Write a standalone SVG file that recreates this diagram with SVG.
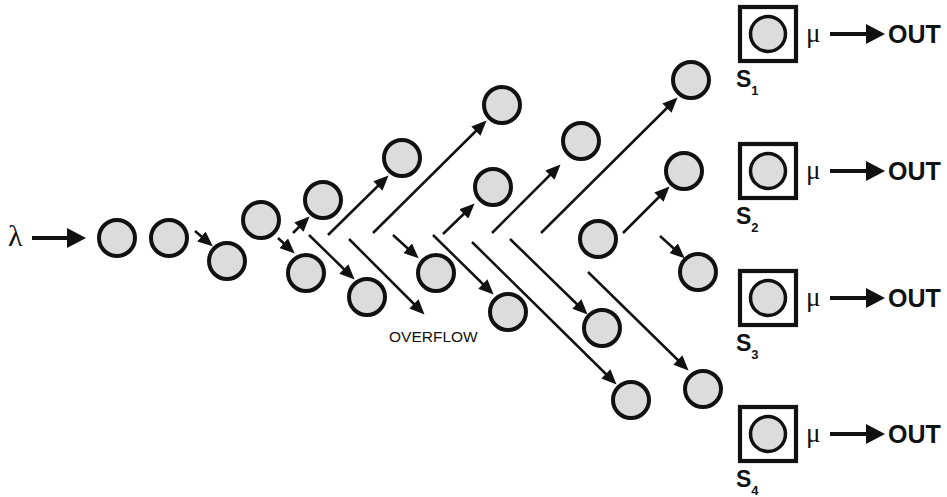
<svg xmlns="http://www.w3.org/2000/svg" width="947" height="497" viewBox="0 0 947 497">
<style>
.q{fill:#dcdcdc;stroke:#111;stroke-width:4}
.sc{fill:#dcdcdc;stroke:#111;stroke-width:3.5}
.box{fill:none;stroke:#111;stroke-width:4.2}
.a{stroke:#111;stroke-width:2.5;fill:none;marker-end:url(#ah)}
.ab{stroke:#111;stroke-width:4;fill:none;marker-end:url(#ahb)}
.sym{font-family:"Liberation Serif",serif;fill:#111}
.b{font-family:"Liberation Sans",Arial,sans-serif;font-weight:bold;fill:#111}
.n{font-family:"Liberation Sans",Arial,sans-serif;fill:#111}
</style>
<defs>
<marker id="ah" markerUnits="userSpaceOnUse" markerWidth="15" markerHeight="13" refX="10" refY="6.5" orient="auto" viewBox="0 0 15 13"><path d="M0,0 L15,6.5 L0,13 z" fill="#111"/></marker>
<marker id="ahb" markerUnits="userSpaceOnUse" markerWidth="19" markerHeight="20" refX="14" refY="10" orient="auto" viewBox="0 0 19 20"><path d="M0,0 L19,10 L0,20 z" fill="#111"/></marker>
</defs>
<rect width="947" height="497" fill="#fff"/>
<g id="connectors">
<line class="ab" x1="32" y1="238" x2="81" y2="238"/>
<line class="a" x1="195" y1="231" x2="209" y2="243"/>
<line class="a" x1="278" y1="238" x2="291" y2="250"/>
<line class="a" x1="293" y1="233" x2="306" y2="220"/>
<line class="a" x1="328" y1="235" x2="385" y2="179"/>
<line class="a" x1="373" y1="233" x2="483" y2="124"/>
<line class="a" x1="309" y1="235" x2="351" y2="276"/>
<line class="a" x1="349" y1="239" x2="421" y2="311"/>
<line class="a" x1="393" y1="235" x2="415" y2="255"/>
<line class="a" x1="443" y1="234" x2="471" y2="207"/>
<line class="a" x1="433" y1="235" x2="490" y2="291"/>
<line class="a" x1="492" y1="233" x2="557" y2="168"/>
<line class="a" x1="472" y1="242" x2="613" y2="381"/>
<line class="a" x1="510" y1="239" x2="584" y2="311"/>
<line class="a" x1="541" y1="233" x2="674" y2="101"/>
<line class="a" x1="623" y1="233" x2="666" y2="190"/>
<line class="a" x1="660" y1="236" x2="681" y2="255"/>
<line class="a" x1="588" y1="272" x2="685" y2="367"/>
<line class="ab" x1="830" y1="34" x2="880" y2="34"/>
<line class="ab" x1="830" y1="171" x2="880" y2="171"/>
<line class="ab" x1="830" y1="298" x2="880" y2="298"/>
<line class="ab" x1="830" y1="434" x2="880" y2="434"/>
</g>
<g id="input"><text class="sym" x="8" y="246" font-size="30">λ</text></g>
<g id="c1"><circle class="q" cx="117" cy="238" r="18"/></g>
<g id="c2"><circle class="q" cx="169" cy="238" r="18"/></g>
<g id="c3"><circle class="q" cx="227" cy="261" r="18"/></g>
<g id="c4"><circle class="q" cx="261" cy="220" r="18"/></g>
<g id="c5"><circle class="q" cx="306" cy="273" r="18"/></g>
<g id="c6"><circle class="q" cx="323" cy="200" r="18"/></g>
<g id="c7"><circle class="q" cx="367" cy="297" r="18"/></g>
<g id="c8"><circle class="q" cx="402" cy="158" r="18"/></g>
<g id="c9"><circle class="q" cx="436" cy="273" r="18"/></g>
<g id="c10"><circle class="q" cx="493" cy="187" r="18"/></g>
<g id="c11"><circle class="q" cx="502" cy="105" r="18"/></g>
<g id="c12"><circle class="q" cx="508" cy="312" r="18"/></g>
<g id="c13"><circle class="q" cx="581" cy="141" r="18"/></g>
<g id="c14"><circle class="q" cx="598" cy="239" r="18"/></g>
<g id="c15"><circle class="q" cx="602" cy="328" r="18"/></g>
<g id="c16"><circle class="q" cx="631" cy="400" r="18"/></g>
<g id="c17"><circle class="q" cx="684" cy="171" r="18"/></g>
<g id="c18"><circle class="q" cx="691" cy="80" r="18"/></g>
<g id="c19"><circle class="q" cx="698" cy="272" r="18"/></g>
<g id="c20"><circle class="q" cx="703" cy="389" r="18"/></g>
<g id="overflow"><text class="n" x="389" y="342" font-size="15.5">OVERFLOW</text></g>
<g id="s1">
<rect class="box" x="740" y="7" width="56" height="54"/><circle class="sc" cx="768" cy="34" r="17.5"/>
<text class="sym" x="806" y="42" font-size="27">μ</text>
<text class="b" x="888" y="43" font-size="25">OUT</text>
<text class="b" x="736" y="87" font-size="23">S<tspan font-size="13" dy="8">1</tspan></text>
</g>
<g id="s2">
<rect class="box" x="740" y="144" width="56" height="54"/><circle class="sc" cx="768" cy="171" r="17.5"/>
<text class="sym" x="806" y="179" font-size="27">μ</text>
<text class="b" x="888" y="180" font-size="25">OUT</text>
<text class="b" x="736" y="224" font-size="23">S<tspan font-size="13" dy="8">2</tspan></text>
</g>
<g id="s3">
<rect class="box" x="740" y="271" width="56" height="54"/><circle class="sc" cx="768" cy="298" r="17.5"/>
<text class="sym" x="806" y="306" font-size="27">μ</text>
<text class="b" x="888" y="307" font-size="25">OUT</text>
<text class="b" x="736" y="351" font-size="23">S<tspan font-size="13" dy="8">3</tspan></text>
</g>
<g id="s4">
<rect class="box" x="740" y="407" width="56" height="54"/><circle class="sc" cx="768" cy="434" r="17.5"/>
<text class="sym" x="806" y="442" font-size="27">μ</text>
<text class="b" x="888" y="443" font-size="25">OUT</text>
<text class="b" x="736" y="487" font-size="23">S<tspan font-size="13" dy="8">4</tspan></text>
</g>
</svg>
